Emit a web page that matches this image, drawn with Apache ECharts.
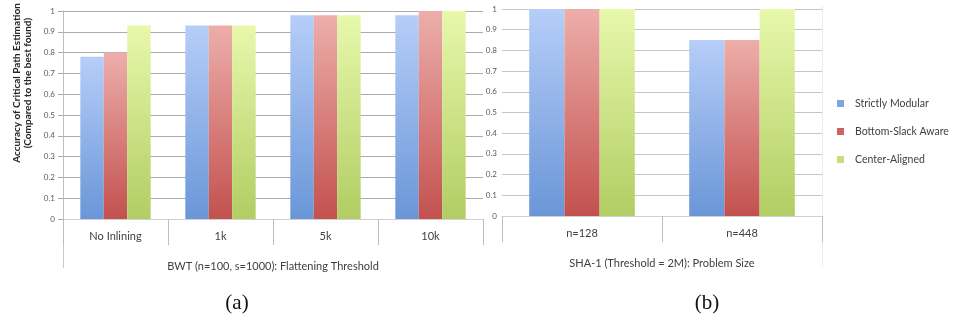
<!DOCTYPE html>
<html>
<head>
<meta charset="utf-8">
<script src="https://cdn.jsdelivr.net/npm/echarts@6/dist/echarts.min.js"></script>
<style>
  html, body { margin: 0; padding: 0; background: #fff; }
  #chart { width: 967px; height: 323px; }
</style>
</head>
<body>
<div id="chart"></div>
<script>
// Panel (a): BWT, accuracy by flattening threshold
const bwtCategories = ['No Inlining', '1k', '5k', '10k'];
const bwtStrictlyModular = [0.78, 0.93, 0.98, 0.98];
const bwtBottomSlack = [0.80, 0.93, 0.98, 1.0];
const bwtCenterAligned = [0.93, 0.93, 0.98, 1.0];

// Panel (b): SHA-1, accuracy by problem size
const shaCategories = ['n=128', 'n=448'];
const shaStrictlyModular = [1.0, 0.85];
const shaBottomSlack = [1.0, 0.85];
const shaCenterAligned = [1.0, 1.0];

const seriesNames = ['Strictly Modular', 'Bottom-Slack Aware', 'Center-Aligned'];
const yTicks = [0, 0.1, 0.2, 0.3, 0.4, 0.5, 0.6, 0.7, 0.8, 0.9, 1];

const FONT = 'Lato, "Open Sans", sans-serif';

function grad(top, bottom) {
  return new echarts.graphic.LinearGradient(0, 0, 0, 1, [
    { offset: 0, color: top },
    { offset: 1, color: bottom }
  ]);
}
const fills = [
  grad('#B6CEF8', '#6A96D8'),
  grad('#EDAEAB', '#C3514E'),
  grad('#E8F8AC', '#B1CD63')
];
const legendColors = ['#7FA5E0', '#CD6461', '#C5DE7E'];

function yAxisFor(gridIndex, gridColor, showLine, margin) {
  return {
    type: 'value', gridIndex: gridIndex, min: 0, max: 1, interval: 0.1,
    axisLine: { show: showLine, lineStyle: { color: '#BDBDBD', width: 1 } },
    axisTick: { show: showLine, length: 5, lineStyle: { color: '#A8A8A8' } },
    axisLabel: {
      fontSize: 8, color: '#595959', fontFamily: FONT, margin: margin,
      formatter: v => {
        const t = yTicks.find(x => Math.abs(x - v) < 1e-6);
        return t === undefined ? '' : String(t);
      }
    },
    splitLine: { lineStyle: { color: gridColor, width: 1 } }
  };
}

function xAxisFor(gridIndex, cats, title) {
  return {
    type: 'category', gridIndex: gridIndex, data: cats,
    axisLine: { show: true, lineStyle: { color: '#D0D0D0' } },
    axisTick: { show: true, length: 26, lineStyle: { color: '#BDBDBD' } },
    axisLabel: { fontSize: 11, color: '#404040', fontFamily: FONT, margin: 12 },
    name: title, nameLocation: 'middle', nameGap: 42,
    nameTextStyle: { fontSize: 11, color: '#404040', fontFamily: FONT }
  };
}

function barSeries(i, axisIdx, values) {
  return {
    name: seriesNames[i], type: 'bar', xAxisIndex: axisIdx, yAxisIndex: axisIdx,
    data: values, barGap: 0, barCategoryGap: axisIdx === 0 ? '33%' : '34%',
    itemStyle: { color: fills[i] }, emphasis: { disabled: true }
  };
}

const chart = echarts.init(document.getElementById('chart'), null, { renderer: 'canvas' });
chart.setOption({
  animation: false,
  backgroundColor: '#ffffff',
  grid: [
    { left: 63, right: 484, top: 11, bottom: 104 },
    { left: 502, right: 145, top: 9, bottom: 107 }
  ],
  xAxis: [
    xAxisFor(0, bwtCategories, 'BWT (n=100, s=1000): Flattening Threshold'),
    xAxisFor(1, shaCategories, 'SHA-1 (Threshold = 2M): Problem Size')
  ],
  yAxis: [
    yAxisFor(0, '#ABABAB', true, 8),
    yAxisFor(1, '#C6C6C6', false, 5)
  ],
  legend: {
    orient: 'vertical', left: 832, top: 93, itemGap: 17,
    itemWidth: 7, itemHeight: 7, icon: 'rect',
    textStyle: { fontSize: 10.5, color: '#404040', fontFamily: FONT, padding: [0, 0, 0, 6] },
    data: seriesNames.map((n, i) => ({ name: n, itemStyle: { color: legendColors[i] } }))
  },
  series: [
    barSeries(0, 0, bwtStrictlyModular),
    barSeries(1, 0, bwtBottomSlack),
    barSeries(2, 0, bwtCenterAligned),
    barSeries(0, 1, shaStrictlyModular),
    barSeries(1, 1, shaBottomSlack),
    barSeries(2, 1, shaCenterAligned)
  ],
  graphic: [
    // y-axis title of panel (a)
    {
      type: 'text', x: 22, y: 83, rotation: Math.PI / 2,
      style: {
        text: 'Accuracy of Critical Path Estimation\n(Compared to the best found)',
        fill: '#262626', font: 'bold 10px ' + FONT,
        align: 'center', verticalAlign: 'middle', lineHeight: 11
      }
    },
    // frame lines of the two chart areas
    { type: 'line', shape: { x1: 63.5, y1: 219, x2: 63.5, y2: 268 }, style: { stroke: '#C8C8C8', lineWidth: 1 } },
    { type: 'line', shape: { x1: 822.5, y1: 6, x2: 822.5, y2: 267 }, style: { stroke: '#ECECEC', lineWidth: 1 } },
    // sub-figure captions
    {
      type: 'text', x: 237, y: 303,
      style: { text: '(a)', font: '21px "Liberation Serif", "DejaVu Serif", serif', fill: '#111', align: 'center', verticalAlign: 'middle' }
    },
    {
      type: 'text', x: 707, y: 303,
      style: { text: '(b)', font: '21px "Liberation Serif", "DejaVu Serif", serif', fill: '#111', align: 'center', verticalAlign: 'middle' }
    }
  ]
});
</script>
</body>
</html>
